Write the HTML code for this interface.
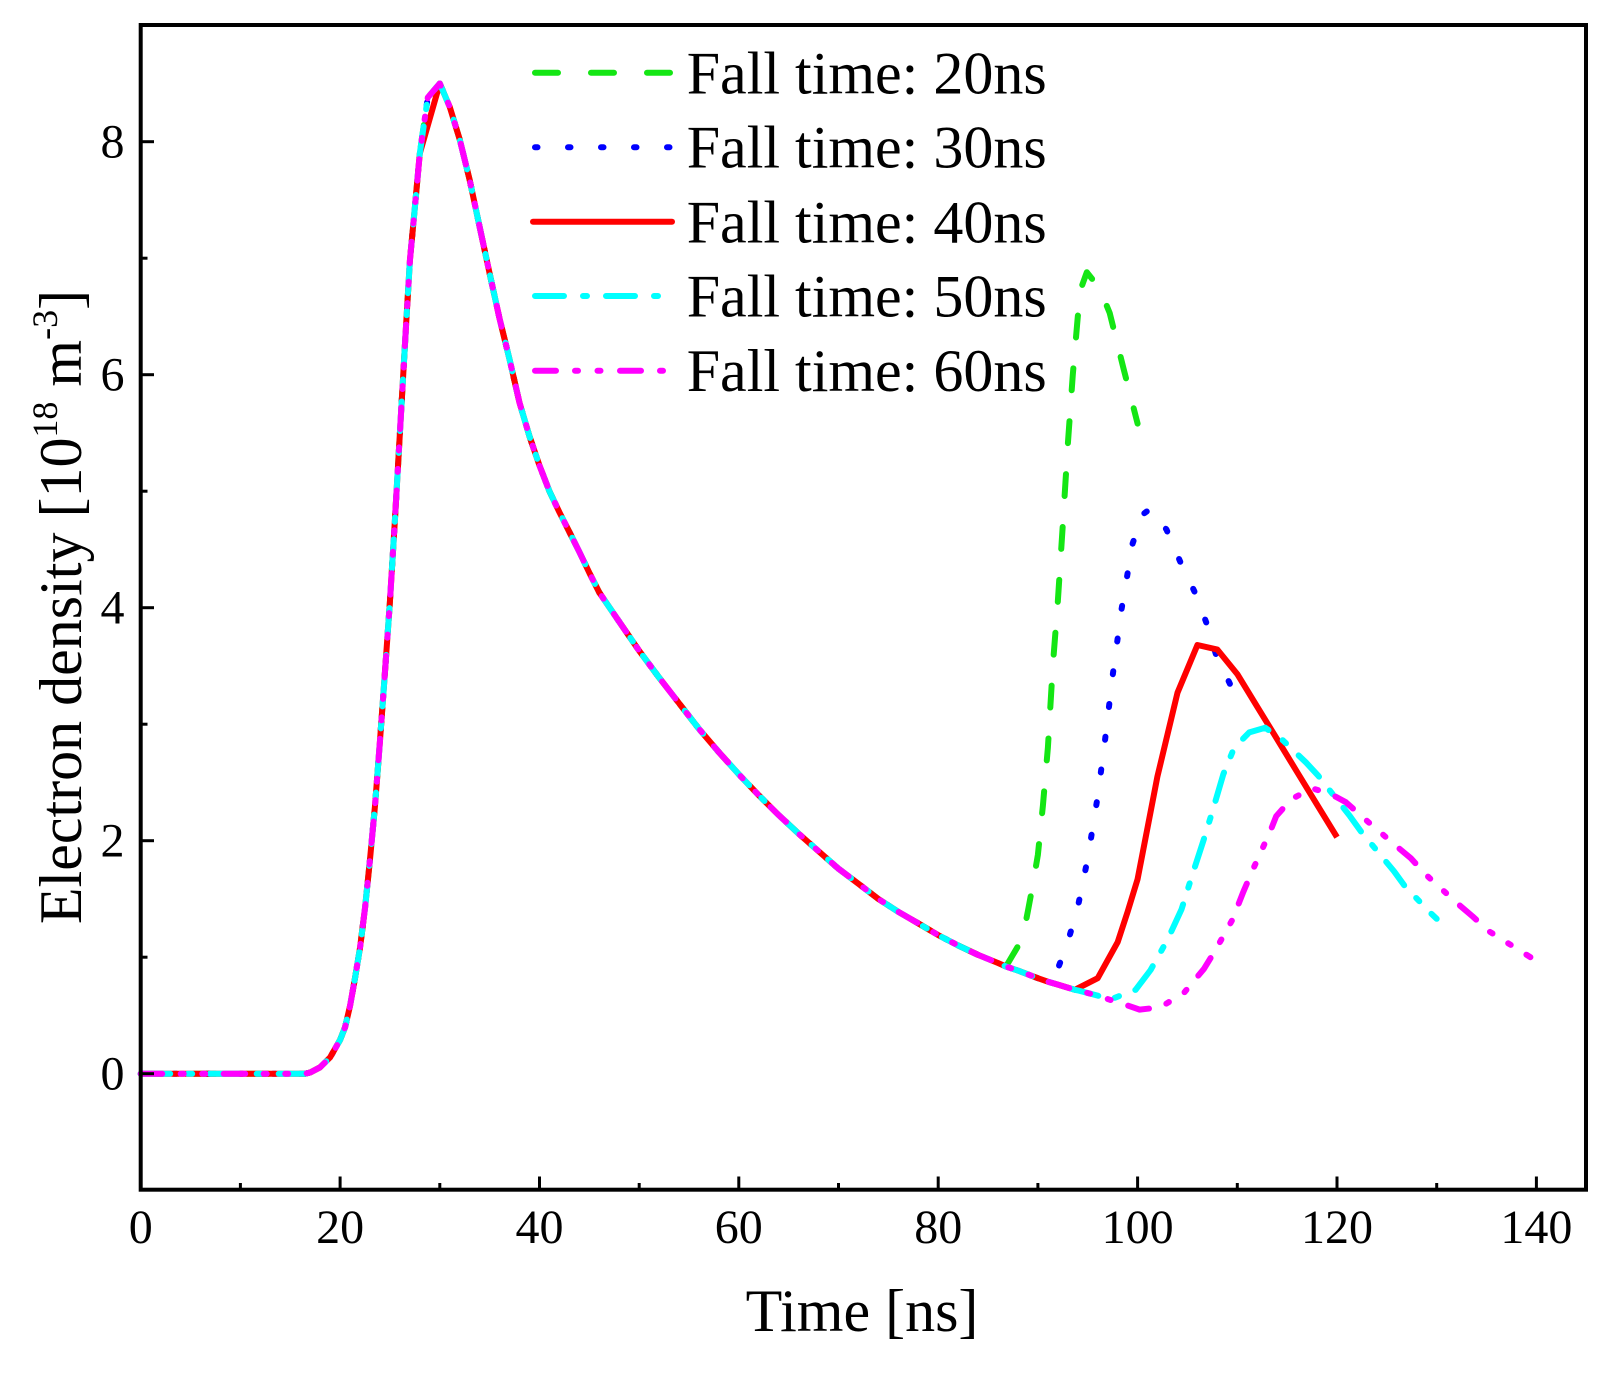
<!DOCTYPE html>
<html>
<head>
<meta charset="utf-8">
<style>
  html,body{margin:0;padding:0;background:#fff;}
  svg{display:block;}
  text{font-family:"Liberation Serif","DejaVu Serif",serif;fill:#000;}
</style>
</head>
<body>
<svg width="1612" height="1377" viewBox="0 0 1612 1377" xmlns="http://www.w3.org/2000/svg">
  <rect x="0" y="0" width="1612" height="1377" fill="#fff"/>

  <g fill="none" stroke-width="6" stroke-linejoin="round">
    <polyline stroke="#14e614" stroke-linecap="round" stroke-dasharray="22 31"
      points="140.7,1073.7 305.2,1073.7 310.2,1072.5 320.1,1067.3 330.1,1057.4 340.1,1039.9 345.1,1027.1 350.0,1006.1 355.0,978.2 360.0,947.9 365.0,908.3 370.0,859.3 375.0,805.8 380.0,740.5 384.9,672.9 389.9,601.9 394.9,520.3 399.9,432.9 405.9,328.1 409.9,260.5 414.9,207.0 419.8,153.4 427.8,97.4 439.8,83.5 449.7,106.8 459.7,139.4 469.7,180.1 479.6,226.7 489.6,273.4 499.6,318.8 509.6,359.6 519.5,402.7 529.5,436.4 539.5,465.6 549.4,491.2 559.4,512.2 569.4,532.0 579.3,551.8 589.3,572.7 599.3,592.5 619.2,621.7 639.2,650.8 659.1,677.6 679.0,703.2 699.0,728.9 718.9,752.2 738.8,774.3 758.8,795.3 778.7,815.1 798.7,833.7 818.6,851.2 838.5,868.7 858.5,883.8 878.4,899.0 898.3,911.8 918.3,923.4 938.2,935.1 958.2,945.5 978.1,954.9 998.0,963.0 1006.0,966.5 1022.5,938.6 1028.0,910.6 1033.0,883.8 1037.9,854.7 1042.9,805.7 1047.9,747.5 1052.8,666.0 1057.8,601.9 1062.8,524.9 1067.8,444.6 1072.8,374.7 1077.8,316.5 1081.8,286.2 1086.8,272.2 1099.7,288.5 1109.7,313.0 1123.6,368.9 1137.6,423.6"/>
    <polyline stroke="#0000ff" stroke-linecap="round" stroke-dasharray="3 30"
      points="140.7,1073.7 305.2,1073.7 310.2,1072.5 320.1,1067.3 330.1,1057.4 340.1,1039.9 345.1,1027.1 350.0,1006.1 355.0,978.2 360.0,947.9 365.0,908.3 370.0,859.3 375.0,805.8 380.0,740.5 384.9,672.9 389.9,601.9 394.9,520.3 399.9,432.9 405.9,328.1 409.9,260.5 414.9,207.0 419.8,153.4 427.8,97.4 439.8,83.5 449.7,106.8 459.7,139.4 469.7,180.1 479.6,226.7 489.6,273.4 499.6,318.8 509.6,359.6 519.5,402.7 529.5,436.4 539.5,465.6 549.4,491.2 559.4,512.2 569.4,532.0 579.3,551.8 589.3,572.7 599.3,592.5 619.2,621.7 639.2,650.8 659.1,677.6 679.0,703.2 699.0,728.9 718.9,752.2 738.8,774.3 758.8,795.3 778.7,815.1 798.7,833.7 818.6,851.2 838.5,868.7 858.5,883.8 878.4,899.0 898.3,911.8 918.3,923.4 938.2,935.1 958.2,945.5 978.1,954.9 998.0,963.0 1006.0,966.5 1018.0,970.6 1037.9,978.2 1047.9,981.7 1057.8,968.9 1067.8,942.1 1077.8,907.1 1087.8,858.2 1097.7,796.4 1104.7,742.9 1112.7,675.3 1121.6,608.9 1132.6,543.6 1142.6,514.5 1150.6,508.7 1166.5,529.6 1180.5,562.3 1194.4,591.4 1206.4,622.8 1216.3,655.5 1230.3,684.6 1237.3,698.6"/>
    <polyline stroke="#ff0000" stroke-linecap="butt"
      points="140.7,1073.7 305.2,1073.7 310.2,1072.5 320.1,1067.3 330.1,1057.4 340.1,1039.9 345.1,1027.1 350.0,1006.1 355.0,978.2 360.0,947.9 365.0,908.3 370.0,859.3 375.0,805.8 380.0,740.5 384.9,672.9 389.9,601.9 394.9,520.3 399.9,432.9 405.9,328.1 409.9,260.5 414.9,207.0 419.8,153.4 439.8,83.5 449.7,106.8 459.7,139.4 469.7,180.1 479.6,226.7 489.6,273.4 499.6,318.8 509.6,359.6 519.5,402.7 529.5,436.4 539.5,465.6 549.4,491.2 559.4,512.2 569.4,532.0 579.3,551.8 589.3,572.7 599.3,592.5 619.2,621.7 639.2,650.8 659.1,677.6 679.0,703.2 699.0,728.9 718.9,752.2 738.8,774.3 758.8,795.3 778.7,815.1 798.7,833.7 818.6,851.2 838.5,868.7 858.5,883.8 878.4,899.0 898.3,911.8 918.3,923.4 938.2,935.1 958.2,945.5 978.1,954.9 998.0,963.0 1006.0,966.5 1018.0,970.6 1037.9,978.2 1047.9,981.7 1057.9,984.6 1074.8,989.8 1097.7,978.2 1117.7,942.1 1127.6,911.8 1137.6,879.1 1157.4,776.6 1177.5,692.7 1197.4,645.0 1217.4,649.6 1237.3,674.1 1257.2,706.7 1277.2,739.3 1297.1,772.0 1317.0,804.6 1337.0,837.2"/>
    <polyline stroke="#00ffff" stroke-linecap="round" stroke-dasharray="29.5 17.5 4.5 17.5"
      points="140.7,1073.7 305.2,1073.7 310.2,1072.5 320.1,1067.3 330.1,1057.4 340.1,1039.9 345.1,1027.1 350.0,1006.1 355.0,978.2 360.0,947.9 365.0,908.3 370.0,859.3 375.0,805.8 380.0,740.5 384.9,672.9 389.9,601.9 394.9,520.3 399.9,432.9 405.9,328.1 409.9,260.5 414.9,207.0 419.8,153.4 427.8,97.4 439.8,83.5 449.7,106.8 459.7,139.4 469.7,180.1 479.6,226.7 489.6,273.4 499.6,318.8 509.6,359.6 519.5,402.7 529.5,436.4 539.5,465.6 549.4,491.2 559.4,512.2 569.4,532.0 579.3,551.8 589.3,572.7 599.3,592.5 619.2,621.7 639.2,650.8 659.1,677.6 679.0,703.2 699.0,728.9 718.9,752.2 738.8,774.3 758.8,795.3 778.7,815.1 798.7,833.7 818.6,851.2 838.5,868.7 858.5,883.8 878.4,899.0 898.3,911.8 918.3,923.4 938.2,935.1 958.2,945.5 978.1,954.9 998.0,963.0 1006.0,966.5 1018.0,970.6 1037.9,978.2 1047.9,981.7 1057.9,984.6 1074.8,989.8 1077.8,990.4 1097.7,995.6 1109.7,999.7 1135.6,989.8 1150.6,970.0 1167.5,939.7 1181.5,909.4 1192.4,874.5 1203.4,840.7 1213.4,808.1 1223.3,774.3 1234.3,747.5 1249.3,732.4 1265.2,727.7 1283.1,740.5 1306.1,762.6 1318.0,775.4 1350.0,816.2 1360.9,831.4 1393.8,871.0 1404.8,886.1 1431.7,914.1 1436.7,918.8"/>
    <polyline stroke="#ff00ff" stroke-linecap="round" stroke-dasharray="21.5 18.5 3 18.5 3 18.5"
      points="140.7,1073.7 305.2,1073.7 310.2,1072.5 320.1,1067.3 330.1,1057.4 340.1,1039.9 345.1,1027.1 350.0,1006.1 355.0,978.2 360.0,947.9 365.0,908.3 370.0,859.3 375.0,805.8 380.0,740.5 384.9,672.9 389.9,601.9 394.9,520.3 399.9,432.9 405.9,328.1 409.9,260.5 414.9,207.0 419.8,153.4 427.8,97.4 439.8,83.5 449.7,106.8 459.7,139.4 469.7,180.1 479.6,226.7 489.6,273.4 499.6,318.8 509.6,359.6 519.5,402.7 529.5,436.4 539.5,465.6 549.4,491.2 559.4,512.2 569.4,532.0 579.3,551.8 589.3,572.7 599.3,592.5 619.2,621.7 639.2,650.8 659.1,677.6 679.0,703.2 699.0,728.9 718.9,752.2 738.8,774.3 758.8,795.3 778.7,815.1 798.7,833.7 818.6,851.2 838.5,868.7 858.5,883.8 878.4,899.0 898.3,911.8 918.3,923.4 938.2,935.1 958.2,945.5 978.1,954.9 998.0,963.0 1006.0,966.5 1018.0,970.6 1037.9,978.2 1047.9,981.7 1057.9,984.6 1074.8,989.8 1077.8,990.4 1097.7,995.6 1109.7,999.7 1117.7,1002.1 1139.6,1009.6 1160.5,1007.3 1184.5,992.2 1203.9,968.9 1215.4,950.2 1232.3,919.9 1243.3,891.9 1251.2,873.3 1270.2,831.4 1276.2,816.2 1291.1,799.3 1312.1,788.3 1331.0,794.1 1346.0,802.3 1362.9,817.4 1396.8,846.5 1410.8,858.2 1425.7,874.5 1457.6,903.6 1472.6,916.4 1489.5,931.6 1530.4,957.2"/>
  </g>

  <rect x="140.7" y="25" width="1445.3" height="1164.7" fill="none" stroke="#000" stroke-width="4"/>

  <g stroke="#000" stroke-width="3">
    <line x1="340.1" y1="1189.7" x2="340.1" y2="1176.5"/>
    <line x1="539.5" y1="1189.7" x2="539.5" y2="1176.5"/>
    <line x1="738.8" y1="1189.7" x2="738.8" y2="1176.5"/>
    <line x1="938.2" y1="1189.7" x2="938.2" y2="1176.5"/>
    <line x1="1137.6" y1="1189.7" x2="1137.6" y2="1176.5"/>
    <line x1="1337.0" y1="1189.7" x2="1337.0" y2="1176.5"/>
    <line x1="1536.4" y1="1189.7" x2="1536.4" y2="1176.5"/>
    <line x1="240.4" y1="1189.7" x2="240.4" y2="1183"/>
    <line x1="439.8" y1="1189.7" x2="439.8" y2="1183"/>
    <line x1="639.2" y1="1189.7" x2="639.2" y2="1183"/>
    <line x1="838.5" y1="1189.7" x2="838.5" y2="1183"/>
    <line x1="1037.9" y1="1189.7" x2="1037.9" y2="1183"/>
    <line x1="1237.3" y1="1189.7" x2="1237.3" y2="1183"/>
    <line x1="1436.7" y1="1189.7" x2="1436.7" y2="1183"/>
    <line x1="140.7" y1="1073.7" x2="154" y2="1073.7"/>
    <line x1="140.7" y1="840.7" x2="154" y2="840.7"/>
    <line x1="140.7" y1="607.7" x2="154" y2="607.7"/>
    <line x1="140.7" y1="374.7" x2="154" y2="374.7"/>
    <line x1="140.7" y1="141.7" x2="154" y2="141.7"/>
    <line x1="140.7" y1="957.2" x2="147.5" y2="957.2"/>
    <line x1="140.7" y1="724.2" x2="147.5" y2="724.2"/>
    <line x1="140.7" y1="491.2" x2="147.5" y2="491.2"/>
    <line x1="140.7" y1="258.2" x2="147.5" y2="258.2"/>
  </g>

  <g font-size="48" text-anchor="middle">
    <text x="140.7" y="1243">0</text>
    <text x="340.1" y="1243">20</text>
    <text x="539.5" y="1243">40</text>
    <text x="738.8" y="1243">60</text>
    <text x="938.2" y="1243">80</text>
    <text x="1137.6" y="1243">100</text>
    <text x="1337.0" y="1243">120</text>
    <text x="1536.4" y="1243">140</text>
  </g>
  <g font-size="48" text-anchor="end">
    <text x="124.5" y="1089.7">0</text>
    <text x="124.5" y="856.7">2</text>
    <text x="124.5" y="623.7">4</text>
    <text x="124.5" y="390.7">6</text>
    <text x="124.5" y="157.7">8</text>
  </g>

  <text x="862" y="1331" font-size="60" text-anchor="middle">Time [ns]</text>
  <text transform="translate(81,607) rotate(-90)" font-size="60" text-anchor="middle">Electron density [10<tspan font-size="36" dy="-24">18</tspan><tspan dy="24"> m</tspan><tspan font-size="36" dy="-24">-3</tspan><tspan dy="24">]</tspan></text>

  <g fill="none" stroke-width="6">
    <line x1="535" y1="72.7" x2="670" y2="72.7" stroke="#14e614" stroke-linecap="round" stroke-dasharray="23 33"/>
    <line x1="535" y1="147.3" x2="670" y2="147.3" stroke="#0000ff" stroke-linecap="round" stroke-dasharray="2.5 30.5"/>
    <line x1="533" y1="221.7" x2="672" y2="221.7" stroke="#ff0000" stroke-linecap="round"/>
    <line x1="535" y1="296" x2="658" y2="296" stroke="#00ffff" stroke-linecap="round" stroke-dasharray="29 19 4 19"/>
    <line x1="535" y1="370.7" x2="664" y2="370.7" stroke="#ff00ff" stroke-linecap="round" stroke-dasharray="21 19 3 19.5 3 19.5"/>
  </g>
  <g font-size="60">
    <text x="686.7" y="93.3">Fall time: 20ns</text>
    <text x="686.7" y="167.7">Fall time: 30ns</text>
    <text x="686.7" y="242.3">Fall time: 40ns</text>
    <text x="686.7" y="316.7">Fall time: 50ns</text>
    <text x="686.7" y="391">Fall time: 60ns</text>
  </g>
</svg>
</body>
</html>
